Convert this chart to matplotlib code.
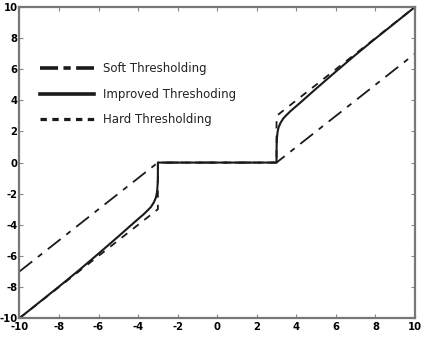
import matplotlib
matplotlib.use("Agg")
import matplotlib.pyplot as plt
from matplotlib.lines import Line2D

# ---- data ----
soft_x = [-10, -3, 3, 10]
soft_y = [-7, 0, 0, 7]

hard_x = [-10, -3, -3, 3, 3, 10]
hard_y = [-10, -3, 0, 0, 3, 10]

improved_x = [-10.0, -8.0, -7.0, -6.0, -5.5, -5.0, -4.6, -4.2, -3.9, -3.7, -3.5, -3.35,
              -3.2, -3.1, -3.05, -3.02, -3.005, -3.0, -3.0,
              3.0, 3.0, 3.005, 3.02, 3.05, 3.1, 3.2, 3.35, 3.5, 3.7, 3.9, 4.2, 4.6,
              5.0, 5.5, 6.0, 7.0, 8.0, 10.0]
improved_y = [-10.0, -7.97, -6.93, -5.85, -5.3, -4.75, -4.3, -3.85, -3.52, -3.3, -3.05, -2.85,
              -2.55, -2.25, -1.95, -1.55, -1.1, -0.6, 0.0,
              0.0, 0.6, 1.1, 1.55, 1.95, 2.25, 2.55, 2.85, 3.05, 3.3, 3.52, 3.85, 4.3,
              4.75, 5.3, 5.85, 6.93, 7.97, 10.0]

ticks = [-10, -8, -6, -4, -2, 0, 2, 4, 6, 8, 10]
labels = ["Soft Thresholding", "Improved Threshoding", "Hard Thresholding"]

# ---- figure ----
fig = plt.figure(figsize=(4.23, 3.5), dpi=100)
ax = fig.add_axes([0.046, 0.091, 0.935, 0.889])

lc = "#1a1a1a"
ax.plot(soft_x, soft_y, color=lc, lw=1.3, dashes=(9, 4, 3, 4))
ax.plot(improved_x, improved_y, color=lc, lw=1.5, solid_capstyle="butt")
ax.plot(hard_x, hard_y, color=lc, lw=1.3, dashes=(4, 4))

ax.set_xlim(-10, 10)
ax.set_ylim(-10, 10)
ax.set_xticks(ticks)
ax.set_yticks(ticks)
ax.set_xticklabels([str(t) for t in ticks], fontweight="bold", fontsize=7.2)
ax.set_yticklabels([str(t) for t in ticks], fontweight="bold", fontsize=7.2)
ax.tick_params(direction="in", length=3, width=0.8, color="#888888",
               top=True, right=True)
ax.tick_params(axis="y", pad=1.5)
ax.tick_params(axis="x", pad=3)
for s in ax.spines.values():
    s.set_color("#777777")
    s.set_linewidth(1.6)

handles = [
    Line2D([], [], color=lc, lw=2.6, dashes=(5, 1.5, 2, 1.5)),
    Line2D([], [], color=lc, lw=2.6),
    Line2D([], [], color=lc, lw=2.3, dashes=(2, 1.7)),
]
leg = fig.legend(handles, labels, loc="upper left", bbox_to_anchor=(0.094, 0.822),
                 frameon=False, fontsize=8.5, handlelength=4.6, handletextpad=0.75,
                 labelspacing=1.05, borderpad=0, borderaxespad=0)
for t in leg.get_texts():
    t.set_color("#222222")

fig.savefig("out.png", dpi=100)
